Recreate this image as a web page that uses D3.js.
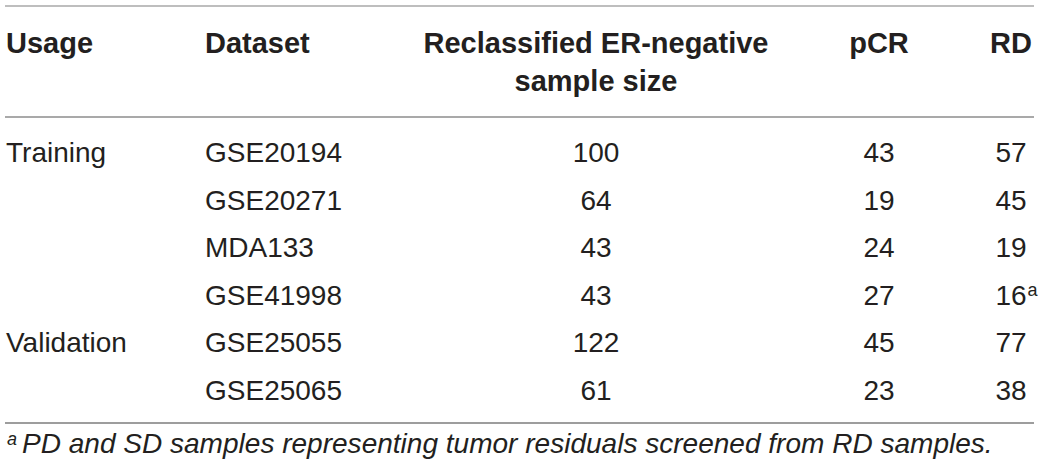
<!DOCTYPE html>
<html>
<head>
<meta charset="utf-8">
<script src="https://cdn.jsdelivr.net/npm/d3@7"></script>
<style>
  html, body { margin: 0; padding: 0; background: #fff; }
  svg { display: block; }
  text { font-family: "Liberation Sans", Arial, Helvetica, sans-serif; fill: #231f20; }
  .light { font-family: Roboto, "Liberation Sans", Arial, sans-serif; font-weight: 300; }
</style>
</head>
<body>
<svg id="chart" width="1040" height="474"></svg>
<script>
// ---- data ----
const headers = ["Usage", "Dataset", "Reclassified ER-negative|sample size", "pCR", "RD"];
const usage = ["Training", "", "", "", "Validation", ""];
const datasets = ["GSE20194", "GSE20271", "MDA133", "GSE41998", "GSE25055", "GSE25065"];
const sampleSize = [100, 64, 43, 43, 122, 61];
const pCR = [43, 19, 24, 27, 45, 23];
const RD = [57, 45, 19, 16, 77, 38];
const RDnote = ["", "", "", "a", "", ""];
const footnoteMark = "a";
const footnote = "PD and SD samples representing tumor residuals screened from RD samples.";

// ---- layout ----
const svg = d3.select("#chart");
const lineX0 = 5, lineX1 = 1034;
const colX = { usage: 6, dataset: 205, size: 596, pcr: 879, rd: 1011 };

// row scale (baselines)
const y = d3.scalePoint().domain(datasets).range([162, 400]);

// rules
const rules = [
  { y: 6, c: "#a8a8a8" },
  { y: 117, c: "#8c8c8c" },
  { y: 423, c: "#7c7c7c" }
];
svg.selectAll("line.rule").data(rules).join("line")
  .attr("class", "rule")
  .attr("x1", lineX0).attr("x2", lineX1)
  .attr("y1", d => d.y).attr("y2", d => d.y)
  .attr("stroke", d => d.c).attr("stroke-width", 1.5);

// header
const hdr = svg.append("g").attr("font-weight", "bold").attr("font-size", 29);
hdr.append("text").attr("x", colX.usage).attr("y", 53).text(headers[0]);
hdr.append("text").attr("x", colX.dataset).attr("y", 53).text(headers[1]);
hdr.selectAll("text.h3").data(headers[2].split("|")).join("text")
  .attr("class", "h3")
  .attr("x", colX.size).attr("y", (d, i) => i === 0 ? 53 : 91)
  .attr("text-anchor", "middle").text(d => d);
hdr.append("text").attr("x", colX.pcr).attr("y", 53).attr("text-anchor", "middle").text(headers[3]);
hdr.append("text").attr("x", colX.rd).attr("y", 53).attr("text-anchor", "middle").text(headers[4]);

// body
const body = svg.append("g").attr("class", "light").attr("font-size", 28);
const rows = datasets.map((d, i) => ({
  usage: usage[i], dataset: d, size: sampleSize[i], pcr: pCR[i], rd: RD[i], note: RDnote[i]
}));

// fit helper: scale font so a reference string reaches the measured width
function fit(sel, target) {
  const n = sel.node(); const len = n.getComputedTextLength();
  const fs = parseFloat(getComputedStyle(n).fontSize);
  return len > 0 ? fs * target / len : fs;
}
const probe = body.append("text").attr("x", 0).attr("y", -50).text(datasets[0]);
const bodySize = fit(probe, 137);
probe.remove();
body.attr("font-size", bodySize);

body.selectAll("text.usage").data(rows.filter(r => r.usage)).join("text")
  .attr("class", "usage").attr("x", colX.usage).attr("y", r => y(r.dataset)).text(r => r.usage);
body.selectAll("text.ds").data(rows).join("text")
  .attr("class", "ds").attr("x", colX.dataset).attr("y", r => y(r.dataset)).text(r => r.dataset);
body.selectAll("text.size").data(rows).join("text")
  .attr("class", "size").attr("x", colX.size).attr("y", r => y(r.dataset))
  .attr("text-anchor", "middle").text(r => r.size);
body.selectAll("text.pcr").data(rows).join("text")
  .attr("class", "pcr").attr("x", colX.pcr).attr("y", r => y(r.dataset))
  .attr("text-anchor", "middle").text(r => r.pcr);
const rdText = body.selectAll("text.rd").data(rows).join("text")
  .attr("class", "rd").attr("x", colX.rd).attr("y", r => y(r.dataset))
  .attr("text-anchor", "middle").text(r => r.rd);
rdText.each(function (r) {
  if (!r.note) return;
  const w = this.getComputedTextLength();
  body.append("text")
    .attr("x", colX.rd + w / 2 + 1)
    .attr("y", y(r.dataset) - 9)
    .attr("font-size", 18)
    .text(r.note);
});

// footnote
const fn = svg.append("g").attr("class", "light").attr("font-style", "italic");
fn.append("text").attr("x", 7).attr("y", 445).attr("font-size", 18).text(footnoteMark);
const fnText = fn.append("text").attr("x", 22).attr("y", 453).attr("font-size", 24).text(footnote);
fnText.attr("font-size", fit(fnText, 971));
</script>
</body>
</html>
